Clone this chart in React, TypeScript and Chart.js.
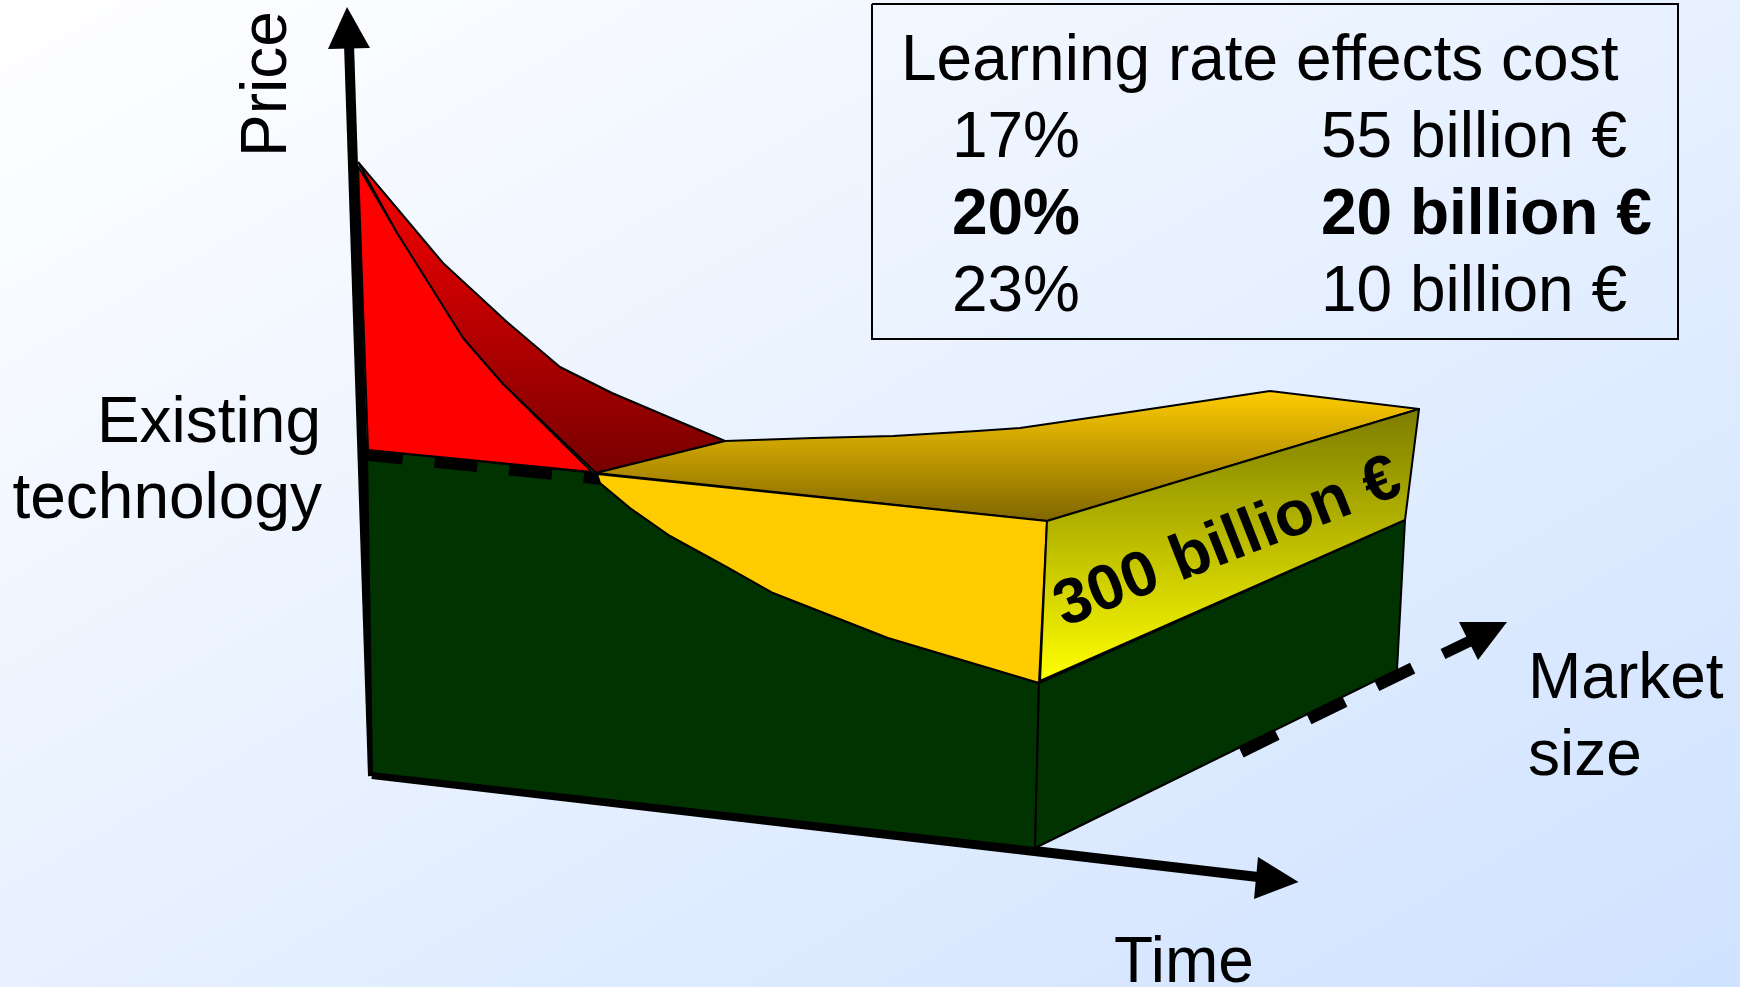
import { useEffect, useRef } from "react";
import { Chart, registerables } from "chart.js";

Chart.register(...registerables);

type Pt = [number, number];

const PLANE_W = 1740;
const PLANE_H = 987;

// Axes of the cost surface
const priceAxis: Pt[] = [[373, 776], [349, 44]];
const priceHead: Pt[] = [[328, 49], [347, 7], [370, 48]];
const timeAxis: Pt[] = [[372, 774], [1258, 877]];
const timeHead: Pt[] = [[1258, 857], [1298.5, 882], [1254, 899]];
const marketAxisStub: Pt[] = [[1443, 654], [1470, 641]];
const marketHead: Pt[] = [[1459, 622], [1507, 622], [1478, 660]];

// Dashed reference levels
const existingLevel: Pt[] = [[360, 454], [602, 479]];
const marketLevel: Pt[] = [[1241, 752], [1415, 667]];

// Surface faces
const existingFront: Pt[] = [
  [367, 450], [596, 473], [600, 483], [630, 508], [670, 536], [727, 567], [773, 593], [888, 638],
  [1039, 683], [1035, 848], [372, 773], [367, 450],
];
const existingSide: Pt[] = [[1039, 683], [1405, 520], [1397, 670], [1035, 848], [1039, 683]];
const learningTop: Pt[] = [
  [358, 162], [443, 263], [507, 322], [560, 367], [612, 393], [725, 441], [596, 473],
  [502, 383], [463, 338], [397, 233], [358, 162],
];
const learningFront: Pt[] = [
  [358, 166], [397, 233], [463, 338], [502, 383], [592, 472], [368, 450], [358, 166],
];
const marketTop: Pt[] = [
  [596, 473], [725, 441], [813, 438], [893, 436], [977, 431], [1020, 428], [1130, 412],
  [1270, 391], [1419, 409], [1047, 521], [596, 473],
];
const marketFront: Pt[] = [
  [597, 474], [1047, 521], [1039, 683], [888, 638], [773, 593], [727, 567], [670, 536],
  [630, 508], [600, 483], [597, 474],
];
const marketSide: Pt[] = [[1047, 521], [1419, 409], [1405, 520], [1040, 681], [1047, 521]];
const tableFrame: Pt[] = [[872, 4], [1678, 4], [1678, 339], [872, 339], [872, 4]];

// Table and axis wording
const tableTitle = "Learning rate effects cost";
const learningRates = ["17%", "20%", "23%"];
const extraCosts = ["55 billion €", "20 billion €", "10 billion €"];
const axisPrice = "Price";
const axisTime = "Time";
const axisMarket = ["Market", "size"];
const axisExisting = ["Existing", "technology"];
const surfaceLabel = "300 billion €";

const FONT = '"Liberation Sans", Arial, sans-serif';
const REGULAR = `64px ${FONT}`;
const BOLD = `bold 64px ${FONT}`;

const toPoints = (list: Pt[]) => list.map(([x, y]) => ({ x, y }));

// Vertical gradient between two plane heights, resolved through the y scale
// once the scale has been laid out.
const vertical = (y0: number, c0: string, y1: number, c1: string) => (ctx: any) => {
  const { chart } = ctx;
  const sy = chart.scales.y;
  const p0 = sy ? sy.getPixelForValue(y0) : NaN;
  const p1 = sy ? sy.getPixelForValue(y1) : NaN;
  if (!Number.isFinite(p0) || !Number.isFinite(p1)) return c0;
  const g = chart.ctx.createLinearGradient(0, p0, 0, p1);
  g.addColorStop(0, c0);
  g.addColorStop(1, c1);
  return g;
};

const stroke = (data: Pt[], width: number, dash: number[] = []) => ({
  data: toPoints(data),
  showLine: true,
  fill: false,
  borderColor: "#000",
  borderWidth: width,
  borderDash: dash,
  borderCapStyle: "butt",
  pointRadius: 0,
  clip: false,
});

const face = (data: Pt[], color: any, width = 2) => ({
  data: toPoints(data),
  showLine: true,
  fill: "shape",
  backgroundColor: color,
  borderColor: "#000",
  borderWidth: width,
  borderJoinStyle: "round",
  pointRadius: 0,
  clip: false,
});

const pageBackground = {
  id: "pageBackground",
  beforeDraw(chart: any) {
    const { ctx, width, height } = chart;
    // Isolines run parallel to the diagonal from bottom-left to top-right.
    const len = Math.hypot(height, width);
    const ux = height / len;
    const uy = width / len;
    const half = (width / 2) * ux + (height / 2) * uy;
    const g = ctx.createLinearGradient(
      width / 2 - ux * half,
      height / 2 - uy * half,
      width / 2 + ux * half,
      height / 2 + uy * half,
    );
    g.addColorStop(0, "#ffffff");
    g.addColorStop(1, "#cfe2ff");
    ctx.save();
    ctx.fillStyle = g;
    ctx.fillRect(0, 0, width, height);
    ctx.restore();
  },
};

const labels = {
  id: "labels",
  afterDatasetsDraw(chart: any) {
    const { ctx, scales } = chart;
    const put = (
      text: string,
      x: number,
      y: number,
      font = REGULAR,
      align: CanvasTextAlign = "left",
      angle = 0,
    ) => {
      ctx.save();
      ctx.translate(scales.x.getPixelForValue(x), scales.y.getPixelForValue(y));
      ctx.rotate((angle * Math.PI) / 180);
      ctx.font = font;
      ctx.textAlign = align;
      ctx.textBaseline = "alphabetic";
      ctx.fillStyle = "#000";
      ctx.fillText(text, 0, 0);
      ctx.restore();
    };
    put(tableTitle, 901, 80);
    const rows = [157, 234, 311];
    learningRates.forEach((t, i) => put(t, 1080, rows[i], i === 1 ? BOLD : REGULAR, "right"));
    extraCosts.forEach((t, i) => put(t, 1321, rows[i], i === 1 ? BOLD : REGULAR));
    put(axisPrice, 286, 157, REGULAR, "left", -90);
    put(axisTime, 1114, 982);
    put(axisMarket[0], 1528, 698);
    put(axisMarket[1], 1528, 775);
    put(axisExisting[0], 321, 442, REGULAR, "right");
    put(axisExisting[1], 322, 518, REGULAR, "right");
    put(surfaceLabel, 1064, 627, BOLD, "left", -21.5);
  },
};

export default function App() {
  const ref = useRef<HTMLCanvasElement>(null);

  useEffect(() => {
    if (!ref.current) return;
    // Painted back to front; Chart.js paints the first dataset last, hence the reverse.
    const layers: any[] = [
      stroke(priceAxis, 10),
      face(priceHead, "#000", 0),
      stroke(timeAxis, 10),
      face(timeHead, "#000", 0),
      stroke(marketAxisStub, 11),
      face(marketHead, "#000", 0),
      face(existingFront, "#003300", 2),
      face(existingSide, "#003300", 2),
      stroke(existingLevel, 12, [43, 32]),
      stroke(marketLevel, 12, [40, 35.5]),
      face(learningTop, vertical(162, "#ff0000", 472, "#780000"), 2),
      face(learningFront, "#ff0000", 2),
      face(marketTop, vertical(391, "#ffcc00", 521, "#806600"), 2),
      face(marketFront, "#ffcc00", 2),
      face(marketSide, vertical(409, "#7c7c00", 681, "#ffff00"), 2),
      stroke(tableFrame, 2),
    ];
    const chart = new Chart(ref.current, {
      type: "scatter",
      data: { datasets: layers.reverse() },
      options: {
        animation: false,
        responsive: false,
        layout: { padding: 0 },
        scales: {
          x: { type: "linear", min: 0, max: PLANE_W, display: false },
          y: { type: "linear", min: 0, max: PLANE_H, reverse: true, display: false },
        },
        plugins: { legend: { display: false }, tooltip: { enabled: false } },
      },
      plugins: [pageBackground, labels],
    } as any);
    return () => chart.destroy();
  }, []);

  return (
    <div style={{ position: "absolute", left: 0, top: 0, width: PLANE_W, height: PLANE_H, overflow: "hidden" }}>
      <canvas ref={ref} width={PLANE_W} height={PLANE_H} style={{ display: "block" }} />
    </div>
  );
}
